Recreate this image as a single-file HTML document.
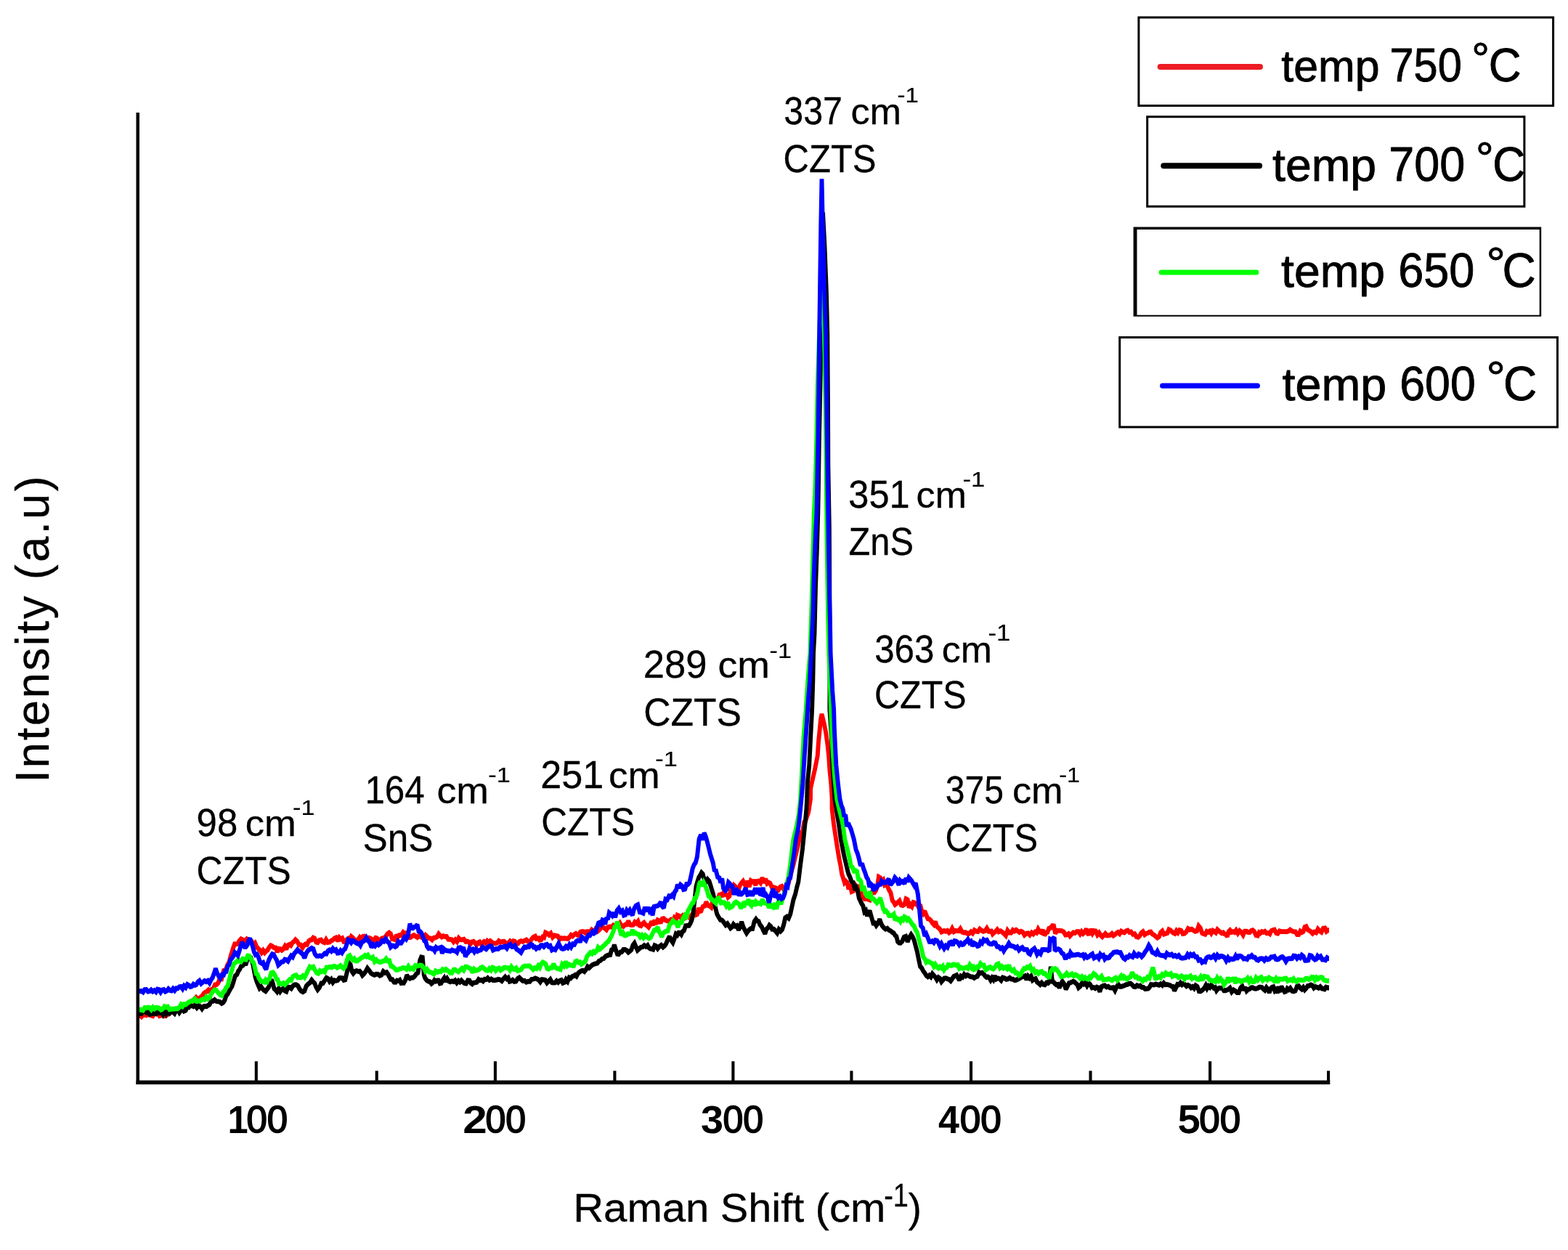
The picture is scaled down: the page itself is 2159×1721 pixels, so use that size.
<!DOCTYPE html>
<html lang="en">
<head>
<meta charset="utf-8">
<title>Raman spectra of CZTS at different temperatures</title>
<style>
html,body{margin:0;padding:0;background:#fff;}
body{width:2159px;height:1721px;overflow:hidden;}
svg{display:block;}
</style>
</head>
<body>
<svg width="2159" height="1721" viewBox="0 0 2159 1721" font-family="'Liberation Sans', Arial, Helvetica, sans-serif" fill="#000">
<rect width="2159" height="1721" fill="#fff"/>
<g transform="scale(1 1.15)" fill="none" stroke-width="5.9" stroke-linejoin="miter" stroke-miterlimit="2" stroke-linecap="butt">
<path stroke="#ff0000" d="M190.0,1215.6 L192.5,1215.6 L194.8,1217.2 L197.0,1215.0 L199.3,1215.2 L201.5,1215.5 L203.8,1213.6 L206.0,1215.1 L208.3,1215.6 L210.5,1216.3 L212.8,1213.0 L215.0,1213.9 L217.2,1212.9 L219.5,1216.2 L221.7,1215.6 L224.1,1212.2 L226.4,1216.3 L228.7,1215.9 L231.0,1214.1 L233.3,1213.6 L235.7,1211.1 L238.0,1210.1 L240.3,1212.1 L242.6,1209.6 L244.9,1208.7 L247.3,1207.5 L249.6,1205.0 L251.9,1205.6 L254.2,1204.0 L256.5,1204.4 L258.8,1201.4 L261.2,1200.5 L263.5,1198.4 L265.6,1198.1 L267.8,1196.1 L269.9,1194.2 L272.1,1196.6 L274.2,1195.6 L276.3,1193.8 L278.5,1192.2 L280.6,1189.3 L282.8,1187.9 L284.9,1187.1 L287.0,1185.1 L289.2,1187.3 L291.3,1184.6 L293.6,1183.8 L296.0,1178.9 L298.3,1178.7 L300.6,1176.6 L302.9,1171.0 L305.2,1171.7 L308.0,1162.1 L310.5,1161.6 L313.0,1155.8 L315.4,1152.1 L317.9,1143.8 L319.6,1139.3 L321.4,1134.2 L323.1,1130.3 L324.9,1130.4 L327.2,1129.9 L329.6,1126.3 L331.9,1124.2 L333.8,1125.0 L335.6,1127.6 L337.5,1126.2 L339.7,1124.2 L342.0,1125.9 L344.2,1126.3 L346.5,1126.9 L348.8,1131.2 L351.2,1129.1 L353.5,1133.7 L355.8,1136.0 L358.1,1137.6 L360.2,1140.5 L362.3,1137.9 L364.4,1140.6 L366.5,1138.5 L368.5,1137.5 L370.6,1134.1 L372.7,1131.9 L374.8,1132.8 L377.1,1134.4 L379.4,1134.5 L381.8,1139.7 L383.8,1135.9 L385.9,1136.1 L388.0,1137.7 L390.1,1136.1 L392.2,1133.0 L394.3,1136.5 L396.4,1131.7 L398.5,1130.7 L400.5,1131.9 L402.6,1128.6 L404.7,1127.2 L406.8,1125.0 L409.2,1126.9 L411.7,1131.0 L414.1,1131.2 L416.5,1134.7 L418.6,1131.8 L420.7,1130.4 L422.8,1130.9 L424.9,1126.9 L427.0,1125.5 L429.1,1125.2 L431.2,1122.7 L433.2,1123.5 L435.3,1128.0 L437.4,1128.5 L439.7,1125.7 L442.1,1125.2 L444.4,1127.7 L446.7,1128.5 L449.0,1124.9 L451.3,1128.3 L453.7,1127.8 L456.0,1126.4 L458.3,1125.4 L460.5,1123.4 L462.7,1122.6 L465.0,1126.6 L467.2,1122.5 L469.4,1124.4 L471.4,1123.4 L473.3,1127.3 L475.3,1127.4 L477.4,1125.1 L479.5,1123.6 L481.6,1125.3 L483.7,1121.2 L486.0,1122.8 L488.3,1125.2 L490.6,1127.4 L492.9,1125.1 L495.3,1122.2 L497.6,1124.3 L499.7,1121.2 L501.7,1120.9 L503.8,1122.8 L505.9,1124.3 L508.2,1122.8 L510.6,1123.8 L512.9,1125.1 L515.0,1125.5 L517.1,1122.8 L519.1,1123.3 L521.2,1125.3 L523.5,1125.3 L525.9,1123.3 L528.2,1123.1 L530.7,1121.6 L533.3,1118.2 L535.8,1116.6 L537.9,1118.0 L540.0,1124.0 L542.1,1124.3 L544.0,1124.9 L545.8,1119.3 L547.7,1121.6 L550.1,1119.6 L552.5,1119.8 L555.0,1116.3 L557.4,1118.9 L559.3,1115.3 L561.1,1119.6 L563.0,1122.2 L565.3,1122.2 L567.6,1120.6 L569.9,1119.6 L572.2,1120.9 L574.6,1122.3 L576.9,1120.1 L579.1,1121.6 L581.3,1122.5 L583.6,1122.2 L585.8,1119.5 L588.0,1121.3 L590.3,1123.2 L592.7,1123.3 L595.0,1125.2 L597.3,1122.8 L599.6,1122.5 L601.9,1121.5 L604.0,1118.1 L606.1,1120.4 L608.2,1121.8 L610.3,1120.6 L612.6,1121.3 L614.9,1121.2 L617.2,1124.5 L619.7,1124.6 L622.1,1124.9 L624.5,1127.6 L627.0,1125.0 L629.3,1127.3 L631.6,1123.1 L633.9,1125.0 L636.4,1125.1 L638.8,1124.5 L641.2,1127.3 L643.7,1127.0 L645.8,1128.1 L647.8,1130.2 L649.9,1127.6 L652.0,1127.1 L654.1,1129.1 L656.2,1131.4 L658.3,1128.6 L660.4,1127.8 L662.5,1130.7 L664.5,1128.9 L666.6,1127.3 L668.7,1128.8 L670.8,1126.5 L672.9,1128.4 L675.0,1126.5 L677.1,1127.9 L679.5,1129.3 L681.9,1129.5 L684.4,1129.1 L686.8,1126.4 L689.2,1128.0 L691.7,1127.3 L694.1,1127.1 L696.5,1129.4 L698.4,1129.8 L700.3,1128.6 L702.1,1126.8 L704.3,1128.8 L706.6,1126.6 L708.8,1127.1 L711.0,1129.4 L713.2,1129.5 L715.3,1127.4 L717.4,1126.6 L719.9,1127.3 L722.3,1126.3 L724.7,1125.2 L727.2,1127.4 L729.6,1127.5 L732.0,1124.3 L734.5,1121.9 L736.9,1121.0 L739.0,1125.5 L741.1,1121.7 L743.2,1125.3 L745.3,1124.9 L747.2,1121.8 L749.2,1122.4 L751.1,1116.5 L753.6,1117.5 L756.0,1119.5 L758.4,1117.5 L760.9,1122.1 L763.3,1119.9 L765.7,1120.3 L768.2,1120.8 L770.6,1124.6 L772.8,1123.2 L775.1,1123.6 L777.3,1123.3 L779.5,1123.6 L781.7,1123.9 L784.0,1122.2 L786.2,1119.5 L788.4,1120.7 L790.6,1118.9 L792.9,1117.7 L795.0,1119.3 L797.1,1119.7 L799.1,1115.8 L801.2,1115.4 L803.5,1115.3 L805.7,1116.9 L807.9,1115.4 L810.1,1115.4 L812.4,1115.8 L814.6,1113.2 L816.8,1115.0 L819.0,1115.3 L821.3,1109.8 L823.5,1114.5 L825.8,1112.8 L828.1,1108.7 L830.4,1110.3 L832.8,1111.4 L835.1,1113.2 L837.4,1109.9 L839.7,1109.5 L842.0,1109.9 L844.4,1107.8 L846.7,1109.2 L849.0,1106.4 L851.3,1108.0 L853.6,1105.1 L856.0,1108.5 L858.3,1109.1 L860.6,1107.1 L862.9,1106.9 L865.2,1102.6 L867.5,1107.1 L869.7,1107.4 L871.9,1107.2 L874.1,1103.9 L876.4,1105.4 L878.5,1103.1 L880.5,1108.0 L882.6,1108.5 L884.7,1106.0 L886.8,1104.6 L888.9,1107.2 L891.0,1108.2 L893.1,1110.0 L895.1,1107.2 L897.2,1103.3 L899.3,1107.6 L901.4,1101.6 L903.5,1106.3 L905.6,1101.5 L907.7,1102.2 L909.8,1105.0 L911.8,1100.0 L913.9,1099.7 L916.4,1101.7 L918.8,1102.6 L921.2,1102.8 L923.7,1101.1 L925.9,1102.8 L928.1,1099.2 L930.4,1102.3 L932.6,1095.7 L934.8,1096.5 L937.2,1098.4 L939.7,1096.4 L942.1,1099.4 L944.5,1098.4 L947.0,1096.9 L949.4,1098.8 L951.9,1096.0 L954.3,1093.4 L956.1,1092.8 L958.0,1095.3 L959.9,1094.6 L961.7,1087.2 L963.6,1091.0 L965.4,1090.5 L967.7,1085.4 L970.1,1084.7 L972.4,1080.1 L974.7,1083.9 L977.0,1084.5 L979.3,1086.2 L981.2,1079.4 L983.0,1086.3 L984.9,1080.5 L986.8,1076.2 L988.6,1076.9 L990.5,1071.4 L992.6,1070.9 L994.6,1073.3 L996.7,1067.2 L998.8,1072.3 L1000.7,1069.8 L1002.5,1074.2 L1004.4,1072.7 L1006.5,1064.4 L1008.6,1065.0 L1010.6,1059.9 L1012.7,1061.5 L1014.8,1064.7 L1016.9,1064.8 L1019.0,1059.6 L1021.1,1057.1 L1023.2,1055.0 L1025.3,1058.6 L1027.4,1062.3 L1029.6,1054.5 L1031.7,1061.8 L1033.9,1054.4 L1036.0,1055.6 L1038.1,1055.3 L1040.2,1059.5 L1042.3,1055.1 L1044.7,1054.8 L1047.1,1057.0 L1049.6,1051.0 L1052.0,1056.9 L1054.1,1052.1 L1056.2,1057.7 L1058.3,1056.5 L1060.4,1057.4 L1062.7,1062.1 L1065.0,1062.3 L1067.3,1062.9 L1069.6,1063.7 L1071.9,1065.3 L1074.3,1061.9 L1076.6,1061.1 L1078.9,1064.4 L1081.2,1063.2 L1083.5,1057.7 L1085.9,1056.6 L1088.2,1048.5 L1090.3,1041.8 L1092.4,1035.2 L1094.4,1027.9 L1096.5,1020.7 L1098.3,1014.0 L1100.0,1007.3 L1101.7,1001.3 L1103.5,996.4 L1105.3,994.9 L1107.2,984.4 L1109.1,983.1 L1111.1,977.7 L1113.2,972.3 L1116.0,956.5 L1116.1,943.9 L1118.0,936.5 L1119.9,929.1 L1121.9,921.7 L1123.8,913.3 L1125.7,905.0 L1127.0,888.3 L1128.9,871.6 L1130.2,860.5 L1131.5,854.9 L1134.7,866.1 L1137.2,877.2 L1139.8,893.9 L1141.1,905.0 L1142.4,921.7 L1144.3,938.4 L1145.6,955.1 L1145.6,968.6 L1148.0,986.8 L1150.1,998.9 L1152.2,1011.0 L1153.9,1020.0 L1155.7,1029.1 L1157.4,1036.4 L1159.1,1046.2 L1161.0,1051.3 L1162.9,1056.7 L1164.7,1055.0 L1166.6,1056.6 L1168.4,1064.6 L1170.3,1058.8 L1172.6,1067.4 L1174.9,1066.6 L1177.2,1059.2 L1179.1,1061.1 L1180.9,1067.0 L1182.8,1062.9 L1184.9,1064.9 L1187.0,1076.0 L1189.1,1073.1 L1191.2,1077.9 L1193.2,1072.7 L1195.3,1076.6 L1197.6,1077.3 L1200.0,1068.7 L1202.3,1068.4 L1204.1,1068.5 L1206.0,1066.1 L1207.8,1061.8 L1209.9,1049.9 L1212.0,1051.0 L1214.1,1054.8 L1216.2,1053.3 L1218.1,1059.3 L1219.9,1058.1 L1221.8,1060.9 L1224.1,1065.4 L1226.4,1068.9 L1228.7,1078.0 L1230.6,1080.1 L1232.4,1083.0 L1234.3,1081.7 L1236.4,1080.1 L1238.5,1078.4 L1240.8,1083.5 L1243.1,1084.1 L1245.4,1082.8 L1247.5,1076.2 L1249.6,1077.1 L1251.7,1086.5 L1253.8,1083.2 L1255.6,1085.2 L1257.5,1080.4 L1259.3,1080.8 L1261.1,1082.5 L1262.8,1082.9 L1264.9,1086.2 L1267.0,1083.0 L1269.1,1090.7 L1271.2,1093.7 L1273.3,1090.7 L1275.4,1095.3 L1277.5,1099.9 L1279.6,1100.4 L1281.7,1102.1 L1283.8,1105.0 L1285.9,1107.0 L1287.9,1103.4 L1290.0,1109.0 L1292.1,1110.7 L1294.2,1112.4 L1296.3,1115.7 L1298.2,1115.0 L1300.0,1114.3 L1302.2,1115.1 L1304.5,1114.2 L1306.7,1116.6 L1308.9,1115.2 L1311.1,1111.6 L1313.4,1115.4 L1315.6,1114.3 L1317.8,1114.4 L1320.0,1114.5 L1322.3,1111.9 L1324.7,1115.7 L1327.1,1116.5 L1329.6,1116.3 L1332.0,1117.6 L1334.4,1117.6 L1336.9,1115.5 L1339.3,1117.3 L1341.7,1113.6 L1344.2,1114.9 L1346.6,1115.3 L1349.0,1112.3 L1351.5,1114.0 L1353.9,1115.1 L1356.4,1114.4 L1358.8,1111.4 L1361.2,1115.1 L1363.1,1115.0 L1364.9,1114.7 L1366.8,1118.2 L1368.9,1116.5 L1371.0,1115.1 L1373.1,1113.0 L1375.1,1115.5 L1377.6,1114.5 L1380.0,1116.0 L1382.4,1117.6 L1384.9,1120.0 L1387.3,1114.0 L1389.7,1116.7 L1392.2,1116.8 L1394.6,1113.5 L1396.8,1114.8 L1399.1,1113.3 L1401.3,1114.6 L1403.5,1116.1 L1405.8,1115.0 L1408.2,1115.9 L1410.6,1119.5 L1413.1,1117.6 L1415.5,1117.3 L1417.9,1119.3 L1420.4,1116.5 L1422.8,1118.3 L1425.2,1115.7 L1427.3,1116.7 L1429.4,1112.4 L1431.5,1115.4 L1433.6,1116.4 L1435.9,1113.5 L1438.2,1119.7 L1440.5,1116.6 L1442.4,1115.9 L1444.2,1111.7 L1446.1,1111.2 L1448.9,1108.3 L1451.0,1108.5 L1453.1,1117.5 L1455.4,1114.0 L1457.7,1114.2 L1460.0,1114.2 L1462.3,1114.5 L1464.7,1115.7 L1467.0,1119.3 L1469.1,1119.1 L1471.2,1117.9 L1473.2,1120.6 L1475.3,1118.6 L1477.8,1116.5 L1480.2,1117.1 L1482.6,1115.4 L1485.1,1115.4 L1487.2,1118.1 L1489.2,1115.4 L1491.3,1117.8 L1493.4,1116.3 L1495.7,1112.2 L1498.1,1117.7 L1500.4,1117.5 L1502.5,1112.4 L1504.5,1117.2 L1506.6,1114.5 L1508.7,1114.7 L1511.0,1119.2 L1513.4,1116.7 L1515.7,1119.8 L1517.8,1121.5 L1519.9,1119.7 L1521.9,1117.7 L1524.0,1120.0 L1526.3,1119.8 L1528.7,1119.5 L1531.0,1117.7 L1533.1,1120.1 L1535.2,1118.9 L1537.2,1117.2 L1539.3,1116.1 L1541.6,1117.9 L1543.8,1114.9 L1546.0,1116.0 L1548.2,1116.6 L1550.5,1114.6 L1552.8,1113.9 L1555.1,1116.1 L1557.4,1115.6 L1559.9,1118.5 L1562.3,1118.1 L1564.7,1121.5 L1567.2,1122.1 L1569.4,1120.2 L1571.6,1116.8 L1573.8,1115.4 L1576.1,1119.0 L1578.3,1117.7 L1580.4,1117.1 L1582.5,1115.9 L1584.6,1115.7 L1586.6,1118.3 L1589.0,1119.3 L1591.3,1121.0 L1593.6,1122.8 L1595.9,1121.5 L1598.1,1116.4 L1600.4,1114.6 L1602.7,1118.4 L1605.0,1117.7 L1607.3,1117.1 L1609.4,1112.8 L1611.5,1113.6 L1613.6,1115.4 L1615.7,1116.9 L1617.7,1117.7 L1619.8,1114.4 L1621.9,1116.6 L1624.0,1113.6 L1626.3,1114.1 L1628.6,1117.9 L1631.0,1117.6 L1633.4,1115.6 L1635.8,1111.7 L1638.4,1113.1 L1640.9,1112.4 L1643.5,1114.0 L1645.8,1115.1 L1648.1,1114.5 L1650.4,1108.6 L1652.8,1111.0 L1655.1,1117.1 L1657.4,1118.0 L1659.5,1118.5 L1661.6,1115.1 L1663.7,1116.0 L1665.8,1114.7 L1667.8,1117.3 L1669.9,1114.1 L1672.0,1115.2 L1674.1,1116.6 L1676.2,1112.9 L1678.3,1114.5 L1680.4,1116.0 L1682.4,1117.3 L1684.3,1116.5 L1686.2,1118.2 L1688.0,1118.8 L1689.9,1121.3 L1691.7,1115.4 L1693.6,1113.7 L1695.7,1116.1 L1697.8,1115.4 L1699.8,1116.2 L1701.9,1113.7 L1704.4,1117.4 L1706.8,1114.3 L1709.2,1116.0 L1711.7,1119.4 L1714.0,1115.0 L1716.3,1115.0 L1718.6,1116.2 L1720.7,1116.3 L1722.8,1114.2 L1724.9,1113.7 L1727.0,1115.3 L1729.4,1119.7 L1731.8,1120.2 L1733.6,1116.4 L1735.3,1117.3 L1737.4,1115.3 L1739.5,1116.1 L1741.6,1115.1 L1744.0,1117.3 L1746.5,1116.9 L1748.5,1118.1 L1750.6,1114.3 L1752.7,1113.5 L1754.8,1113.1 L1757.1,1117.0 L1759.4,1117.6 L1761.8,1114.6 L1764.2,1115.3 L1766.6,1115.3 L1769.1,1115.3 L1771.5,1115.5 L1773.9,1114.8 L1776.4,1113.1 L1778.8,1114.6 L1781.2,1115.4 L1783.6,1115.5 L1785.9,1118.8 L1788.2,1118.8 L1790.3,1114.9 L1792.4,1116.4 L1794.5,1115.3 L1796.5,1109.9 L1798.6,1109.2 L1800.7,1113.1 L1802.8,1114.2 L1804.9,1115.3 L1807.3,1117.6 L1809.8,1115.7 L1812.2,1116.6 L1814.6,1112.3 L1817.1,1114.8 L1819.5,1116.0 L1821.9,1111.5 L1824.4,1111.2 L1826.4,1115.1 L1828.5,1113.7 L1830.0,1113.7"/>
<path stroke="#000000" d="M190.0,1213.6 L192.5,1213.6 L194.8,1213.7 L197.0,1211.2 L199.3,1210.6 L201.5,1212.3 L203.8,1211.8 L206.0,1214.3 L208.3,1213.8 L210.5,1213.4 L212.8,1213.1 L215.0,1213.6 L217.2,1211.2 L219.5,1212.6 L221.7,1211.3 L224.1,1214.6 L226.4,1210.5 L228.7,1214.0 L231.0,1210.3 L233.3,1213.1 L235.7,1211.3 L238.0,1211.5 L240.3,1213.4 L242.6,1209.4 L244.8,1208.9 L247.0,1212.2 L249.2,1209.6 L251.4,1207.0 L253.5,1210.5 L255.7,1209.6 L257.9,1205.0 L260.0,1205.9 L262.1,1203.9 L264.2,1204.1 L266.3,1205.0 L268.7,1203.4 L271.1,1206.5 L273.6,1204.1 L276.0,1205.3 L278.1,1207.7 L280.2,1205.1 L282.3,1204.6 L284.4,1204.9 L286.4,1203.7 L288.5,1202.7 L290.9,1198.2 L293.2,1198.6 L295.5,1196.9 L297.9,1198.8 L300.4,1199.1 L302.8,1199.5 L305.2,1201.3 L307.3,1200.2 L309.4,1197.4 L311.5,1192.0 L313.6,1189.9 L315.5,1186.6 L317.5,1183.4 L319.4,1181.0 L321.4,1175.7 L323.9,1168.2 L326.3,1166.7 L328.2,1162.6 L330.0,1160.7 L331.9,1157.0 L334.2,1155.9 L336.6,1153.7 L338.9,1153.5 L340.9,1148.0 L342.9,1147.8 L344.9,1145.2 L346.6,1150.0 L348.3,1154.8 L351.5,1169.6 L353.5,1175.2 L355.5,1179.4 L357.4,1183.1 L359.4,1181.3 L361.4,1183.7 L363.3,1185.4 L365.8,1186.7 L368.2,1184.0 L370.1,1181.8 L371.9,1176.6 L373.8,1172.9 L375.7,1177.6 L377.5,1183.6 L379.4,1185.1 L381.5,1187.3 L383.7,1183.6 L385.8,1187.1 L387.9,1184.5 L390.0,1183.6 L392.2,1186.2 L394.3,1187.0 L396.5,1181.8 L398.7,1182.0 L401.0,1183.4 L403.2,1180.4 L405.4,1179.0 L407.7,1178.9 L410.1,1180.1 L412.4,1183.8 L414.7,1186.5 L417.0,1187.6 L419.3,1186.3 L421.8,1180.4 L424.2,1178.2 L426.6,1176.7 L429.1,1173.3 L431.2,1175.7 L433.2,1177.1 L435.3,1181.8 L437.4,1184.9 L439.9,1182.3 L442.3,1177.3 L444.7,1177.2 L447.2,1173.6 L449.4,1170.6 L451.6,1171.7 L453.8,1174.9 L456.1,1172.6 L458.3,1176.2 L460.5,1173.7 L462.7,1174.1 L465.0,1173.7 L467.2,1170.9 L469.4,1170.7 L471.4,1171.0 L473.3,1173.4 L475.3,1172.9 L477.2,1166.1 L479.0,1159.2 L480.9,1153.3 L482.7,1155.1 L484.6,1163.1 L486.4,1165.3 L488.8,1162.9 L491.1,1162.2 L493.4,1163.1 L495.3,1162.7 L497.1,1164.7 L499.0,1167.7 L501.3,1165.8 L503.6,1162.9 L505.9,1159.2 L508.4,1161.9 L510.8,1165.1 L513.2,1166.4 L515.7,1167.3 L518.1,1166.2 L520.5,1166.3 L523.0,1168.0 L525.4,1167.2 L527.7,1163.0 L530.0,1164.7 L532.4,1164.0 L534.2,1166.3 L536.1,1169.6 L537.9,1172.5 L540.2,1172.7 L542.6,1175.9 L544.9,1176.0 L546.7,1173.9 L548.6,1174.3 L550.4,1173.3 L552.3,1177.0 L554.2,1176.7 L556.0,1176.8 L558.1,1173.5 L560.2,1167.6 L562.3,1170.1 L564.4,1171.5 L566.4,1170.6 L568.5,1170.5 L570.9,1168.9 L573.2,1166.1 L575.5,1164.5 L578.3,1149.6 L580.0,1145.9 L581.8,1146.3 L583.8,1167.4 L585.2,1170.9 L587.5,1173.6 L589.7,1174.9 L591.9,1175.4 L594.1,1177.6 L596.4,1175.9 L598.2,1173.6 L600.1,1174.9 L601.9,1173.9 L603.8,1173.9 L605.6,1177.4 L607.5,1177.0 L609.6,1173.5 L611.7,1170.9 L613.8,1175.0 L615.8,1171.8 L617.9,1174.7 L620.0,1175.5 L622.2,1174.7 L624.5,1175.3 L626.7,1173.8 L628.9,1176.6 L631.2,1174.2 L633.2,1175.7 L635.3,1173.8 L637.4,1175.8 L639.5,1177.1 L641.8,1177.4 L644.1,1173.8 L646.5,1174.0 L648.3,1177.0 L650.2,1178.1 L652.0,1176.5 L654.3,1176.4 L656.7,1175.8 L659.0,1172.5 L661.1,1173.6 L663.2,1173.3 L665.2,1174.6 L667.3,1172.4 L669.4,1172.8 L671.5,1171.0 L673.9,1173.4 L676.4,1172.1 L678.8,1173.5 L681.2,1173.5 L683.7,1173.2 L686.1,1172.4 L688.5,1172.9 L691.0,1174.4 L693.3,1171.8 L695.6,1169.6 L697.9,1172.0 L699.8,1170.7 L701.7,1175.0 L703.5,1174.6 L705.8,1173.2 L708.1,1175.1 L710.5,1174.8 L712.8,1171.7 L715.1,1170.4 L717.4,1172.4 L719.9,1174.3 L722.3,1174.1 L724.7,1175.8 L727.2,1175.0 L729.6,1175.0 L732.0,1172.4 L734.5,1172.2 L736.9,1171.2 L739.2,1172.0 L741.5,1172.9 L743.9,1175.6 L746.2,1172.7 L748.5,1172.9 L750.8,1173.3 L753.1,1176.7 L755.4,1174.7 L757.7,1172.6 L760.0,1176.4 L762.1,1176.6 L764.3,1176.4 L766.4,1174.3 L768.6,1176.1 L770.7,1174.2 L772.9,1173.5 L775.0,1176.9 L777.2,1176.1 L779.3,1172.6 L781.5,1175.0 L783.7,1170.4 L785.8,1171.1 L788.0,1169.0 L789.9,1168.6 L791.9,1167.3 L793.8,1168.7 L795.7,1165.6 L797.9,1163.8 L800.1,1162.5 L802.4,1161.9 L804.6,1163.2 L806.8,1160.8 L809.0,1157.2 L811.2,1158.7 L813.5,1156.8 L815.7,1155.2 L817.9,1154.3 L820.1,1153.7 L822.4,1153.2 L824.6,1150.6 L826.8,1150.0 L829.1,1148.0 L831.3,1147.6 L833.5,1145.2 L835.7,1144.1 L838.0,1143.4 L840.2,1143.1 L842.0,1137.4 L843.9,1136.8 L845.8,1131.2 L847.8,1136.7 L849.9,1142.1 L852.0,1142.3 L854.1,1140.0 L856.2,1139.7 L858.3,1136.9 L860.6,1136.9 L862.9,1138.0 L865.2,1140.2 L867.3,1138.8 L869.4,1137.0 L871.5,1131.6 L873.6,1129.2 L875.7,1133.6 L877.8,1137.7 L880.1,1136.0 L882.4,1134.1 L884.7,1133.7 L887.0,1131.8 L889.4,1133.3 L891.7,1131.8 L893.5,1134.6 L895.4,1135.8 L897.2,1136.0 L899.3,1136.6 L901.4,1132.0 L903.5,1132.7 L905.6,1135.6 L908.0,1133.2 L910.5,1131.6 L912.9,1133.9 L915.3,1132.1 L917.2,1129.8 L919.0,1125.9 L920.9,1122.7 L922.7,1122.8 L924.6,1126.1 L926.5,1128.5 L928.5,1124.0 L930.6,1118.2 L932.5,1119.5 L934.3,1116.7 L936.2,1116.8 L938.1,1118.7 L939.9,1115.3 L941.8,1114.1 L944.1,1108.4 L946.4,1108.1 L948.7,1108.1 L950.6,1105.4 L952.4,1101.7 L954.3,1094.9 L956.4,1078.0 L958.5,1061.0 L960.3,1055.8 L962.2,1050.5 L964.0,1048.0 L965.9,1044.8 L967.7,1046.5 L969.6,1052.7 L971.9,1056.1 L974.2,1052.8 L976.5,1055.0 L978.4,1060.2 L980.3,1065.5 L982.1,1070.7 L984.9,1086.3 L987.2,1094.3 L989.5,1098.0 L991.9,1101.2 L994.3,1101.8 L996.7,1104.4 L999.2,1107.5 L1001.6,1105.8 L1003.7,1108.5 L1005.8,1111.2 L1007.9,1109.8 L1009.9,1106.6 L1012.3,1108.9 L1014.6,1108.2 L1016.9,1113.3 L1019.0,1109.7 L1021.1,1103.6 L1023.4,1109.7 L1025.7,1113.6 L1028.0,1117.1 L1030.0,1114.6 L1032.0,1112.8 L1033.9,1111.7 L1036.2,1111.8 L1038.6,1103.4 L1040.9,1100.5 L1042.7,1102.6 L1044.6,1103.1 L1046.4,1107.1 L1048.8,1109.6 L1051.1,1114.0 L1053.4,1117.9 L1055.5,1112.3 L1057.6,1110.6 L1059.4,1107.7 L1061.3,1109.1 L1063.1,1112.4 L1065.5,1112.4 L1067.8,1114.7 L1070.1,1117.1 L1072.4,1112.6 L1074.7,1114.8 L1077.1,1112.6 L1079.1,1107.2 L1081.2,1098.9 L1083.5,1097.5 L1085.9,1099.2 L1088.2,1094.5 L1090.3,1086.0 L1092.4,1077.5 L1095.1,1070.5 L1097.2,1062.4 L1099.3,1055.7 L1102.1,1035.2 L1104.9,1017.0 L1107.0,998.9 L1109.1,980.7 L1110.4,968.6 L1111.1,956.5 L1111.7,938.3 L1114.2,916.5 L1115.5,893.9 L1116.8,871.3 L1118.1,849.6 L1119.3,815.7 L1120.0,782.6 L1121.5,758.3 L1123.0,702.6 L1124.8,658.3 L1126.3,613.9 L1126.8,591.3 L1127.8,530.4 L1129.2,469.6 L1130.6,400.0 L1131.8,330.4 L1133.0,254.3 L1135.5,295.7 L1137.8,347.8 L1139.3,400.0 L1140.0,487.0 L1140.3,556.5 L1141.8,630.4 L1142.3,713.0 L1142.6,782.6 L1142.4,849.6 L1145.0,882.6 L1146.2,915.7 L1148.0,939.1 L1149.4,956.5 L1152.2,972.3 L1155.0,986.8 L1157.8,1004.9 L1159.8,1014.0 L1161.9,1023.1 L1164.0,1030.9 L1166.1,1038.8 L1168.2,1046.1 L1170.3,1049.9 L1172.6,1055.5 L1174.9,1056.7 L1177.2,1065.3 L1179.1,1063.0 L1180.9,1066.7 L1182.8,1075.3 L1184.7,1078.8 L1186.5,1082.0 L1188.4,1084.6 L1190.2,1091.5 L1192.1,1090.1 L1193.9,1096.7 L1196.0,1091.8 L1198.1,1092.0 L1200.2,1098.7 L1202.3,1105.1 L1204.4,1105.0 L1206.5,1108.0 L1208.9,1105.3 L1211.3,1100.5 L1213.1,1105.3 L1214.8,1108.5 L1217.1,1110.8 L1219.4,1112.4 L1221.8,1111.4 L1224.1,1113.6 L1226.4,1114.5 L1228.7,1116.3 L1230.6,1117.1 L1232.4,1119.7 L1234.3,1121.1 L1236.1,1127.4 L1238.0,1128.9 L1239.9,1129.0 L1242.3,1127.0 L1244.7,1122.0 L1247.2,1121.1 L1249.6,1127.5 L1252.0,1122.5 L1254.5,1118.9 L1256.5,1121.4 L1258.6,1125.4 L1260.7,1132.3 L1262.8,1139.1 L1264.9,1148.2 L1267.0,1156.9 L1269.1,1158.9 L1271.2,1162.5 L1273.3,1164.9 L1275.4,1167.9 L1277.5,1169.4 L1279.6,1167.7 L1281.7,1169.5 L1283.8,1165.9 L1285.9,1167.9 L1287.9,1169.9 L1290.0,1173.0 L1292.1,1170.2 L1294.2,1171.5 L1296.3,1175.3 L1298.2,1173.4 L1300.0,1171.3 L1302.3,1171.1 L1304.6,1171.9 L1307.0,1172.7 L1309.0,1174.3 L1311.1,1171.8 L1313.2,1169.0 L1315.3,1168.3 L1317.2,1167.4 L1319.0,1170.3 L1320.9,1173.6 L1323.1,1168.7 L1325.3,1169.9 L1327.6,1166.6 L1329.8,1168.5 L1332.0,1167.3 L1334.3,1168.4 L1336.6,1169.4 L1339.0,1169.5 L1341.3,1170.9 L1343.6,1169.5 L1345.9,1168.8 L1348.0,1164.3 L1350.1,1165.2 L1352.2,1164.6 L1354.3,1166.0 L1356.4,1168.5 L1358.4,1170.0 L1360.3,1169.5 L1362.2,1170.7 L1364.0,1173.4 L1365.9,1170.7 L1367.7,1172.8 L1369.6,1168.3 L1371.8,1172.2 L1374.0,1171.1 L1376.3,1171.8 L1378.5,1173.8 L1380.7,1170.4 L1383.1,1171.0 L1385.6,1172.5 L1388.0,1172.0 L1390.4,1170.6 L1392.7,1172.3 L1394.9,1172.3 L1397.1,1173.7 L1399.4,1173.2 L1401.6,1172.3 L1404.0,1171.3 L1406.4,1169.8 L1408.9,1169.4 L1411.3,1168.4 L1413.4,1172.8 L1415.5,1168.8 L1417.6,1171.0 L1419.7,1168.8 L1421.8,1173.6 L1423.8,1172.5 L1425.9,1171.7 L1428.0,1175.7 L1430.1,1177.1 L1432.2,1178.8 L1434.3,1176.5 L1436.4,1178.5 L1438.7,1178.9 L1441.0,1176.4 L1443.3,1176.9 L1444.7,1175.4 L1446.8,1157.2 L1448.9,1175.1 L1450.3,1175.3 L1452.4,1177.5 L1454.5,1179.0 L1456.5,1178.6 L1458.6,1182.6 L1460.7,1178.7 L1462.8,1175.0 L1465.2,1178.0 L1467.7,1184.4 L1469.8,1180.7 L1471.8,1177.1 L1473.9,1176.5 L1475.8,1175.8 L1477.6,1174.9 L1479.5,1175.7 L1481.4,1177.2 L1483.2,1178.7 L1485.1,1182.5 L1487.4,1180.9 L1489.7,1176.8 L1492.0,1178.3 L1494.3,1176.5 L1496.7,1180.2 L1499.0,1176.9 L1501.3,1178.9 L1503.6,1182.6 L1505.9,1182.2 L1508.0,1183.3 L1510.1,1181.8 L1512.2,1182.4 L1514.3,1187.2 L1516.6,1181.4 L1518.9,1180.3 L1521.2,1179.9 L1523.6,1181.7 L1525.9,1181.0 L1528.2,1182.5 L1530.5,1182.7 L1532.8,1182.3 L1535.2,1185.8 L1537.5,1181.4 L1539.8,1178.5 L1542.1,1181.2 L1544.2,1181.1 L1546.3,1180.4 L1548.4,1179.8 L1550.5,1178.8 L1552.6,1178.6 L1554.6,1177.6 L1556.7,1177.4 L1558.8,1178.9 L1561.0,1181.1 L1563.3,1181.5 L1565.5,1179.8 L1567.7,1180.8 L1569.9,1180.1 L1572.2,1182.0 L1574.4,1182.1 L1576.6,1183.9 L1578.8,1183.8 L1581.1,1183.5 L1582.9,1181.8 L1584.8,1178.6 L1586.6,1178.9 L1589.0,1179.2 L1591.3,1178.2 L1593.6,1178.8 L1595.9,1179.4 L1598.1,1177.9 L1600.4,1179.6 L1602.4,1177.0 L1604.5,1178.9 L1606.8,1178.6 L1609.2,1179.1 L1611.5,1179.9 L1613.3,1180.9 L1615.2,1181.2 L1617.1,1186.0 L1619.1,1182.8 L1621.2,1178.5 L1623.3,1178.8 L1625.4,1176.7 L1627.5,1178.9 L1629.6,1177.4 L1631.7,1178.8 L1633.7,1180.6 L1635.8,1179.3 L1637.9,1180.2 L1640.0,1182.5 L1642.1,1181.3 L1644.2,1183.2 L1646.3,1179.8 L1648.6,1181.1 L1650.9,1186.7 L1653.2,1186.8 L1655.5,1185.5 L1657.9,1183.3 L1660.2,1179.8 L1662.0,1183.3 L1663.9,1180.6 L1665.8,1182.1 L1667.6,1179.4 L1669.5,1180.8 L1671.3,1182.9 L1673.2,1182.2 L1675.0,1185.9 L1676.9,1183.9 L1679.0,1182.8 L1681.1,1182.9 L1683.1,1183.1 L1685.2,1185.9 L1687.3,1185.9 L1689.4,1185.2 L1691.5,1184.4 L1693.6,1182.9 L1696.0,1187.5 L1698.5,1185.1 L1700.9,1186.4 L1703.3,1188.4 L1705.6,1188.4 L1708.0,1183.2 L1710.3,1180.6 L1712.4,1185.4 L1714.5,1182.1 L1716.5,1186.4 L1718.6,1184.6 L1720.7,1184.1 L1722.8,1182.5 L1724.9,1182.3 L1727.0,1183.4 L1729.3,1183.8 L1731.6,1183.2 L1733.9,1181.9 L1735.8,1181.9 L1737.6,1182.1 L1739.5,1184.0 L1741.6,1185.5 L1743.7,1182.2 L1745.8,1184.6 L1747.8,1188.4 L1749.7,1183.4 L1751.6,1181.9 L1753.4,1181.5 L1755.3,1186.1 L1757.1,1184.7 L1759.0,1188.5 L1760.8,1184.1 L1762.7,1185.0 L1764.5,1181.1 L1766.6,1184.9 L1768.7,1187.4 L1770.6,1186.8 L1772.4,1183.5 L1774.3,1184.9 L1776.6,1183.0 L1778.9,1186.3 L1781.2,1187.0 L1783.6,1186.2 L1785.9,1180.8 L1788.2,1180.4 L1790.3,1182.9 L1792.4,1184.4 L1794.5,1182.1 L1796.5,1185.1 L1798.6,1183.1 L1800.7,1180.3 L1802.8,1180.1 L1804.9,1179.1 L1807.0,1179.8 L1809.1,1182.8 L1811.2,1181.3 L1813.2,1181.9 L1815.6,1183.0 L1817.9,1181.3 L1820.2,1183.5 L1822.1,1183.8 L1823.9,1184.3 L1825.8,1181.9 L1828.5,1182.6 L1830.0,1182.6"/>
<path stroke="#00ff00" d="M190.0,1208.9 L192.5,1208.9 L194.8,1208.9 L197.0,1209.6 L199.3,1206.4 L201.5,1206.6 L203.8,1206.1 L206.0,1206.5 L208.3,1208.8 L210.5,1205.9 L212.8,1207.8 L215.0,1206.2 L217.2,1206.6 L219.5,1207.2 L221.7,1209.0 L224.1,1207.8 L226.4,1204.9 L228.7,1206.0 L231.0,1205.2 L233.3,1208.5 L235.7,1208.1 L238.0,1207.9 L240.3,1207.9 L242.6,1207.4 L244.8,1207.6 L247.0,1206.0 L249.2,1202.7 L251.4,1204.8 L253.5,1202.3 L255.7,1202.7 L257.9,1201.1 L260.0,1199.8 L262.1,1198.9 L264.2,1198.6 L266.3,1197.5 L268.4,1196.0 L270.4,1198.6 L272.7,1198.2 L275.0,1198.8 L277.2,1197.1 L279.5,1196.2 L281.8,1196.8 L284.0,1193.6 L286.3,1195.9 L288.5,1194.5 L290.9,1190.0 L293.2,1186.9 L295.5,1185.2 L297.9,1185.7 L300.4,1188.5 L302.8,1191.0 L305.2,1191.8 L307.3,1187.5 L309.4,1186.2 L311.5,1182.0 L313.6,1180.2 L315.7,1172.6 L317.9,1165.0 L319.6,1160.5 L321.4,1154.7 L323.9,1152.4 L326.3,1151.1 L328.2,1148.9 L330.0,1150.8 L331.9,1151.4 L334.2,1148.0 L336.6,1148.7 L338.9,1148.9 L341.0,1144.3 L343.0,1144.4 L345.1,1147.1 L347.2,1150.8 L349.3,1152.9 L351.1,1159.0 L352.8,1165.7 L354.6,1166.5 L356.3,1170.7 L358.6,1173.9 L361.0,1175.0 L363.3,1175.6 L365.1,1173.7 L366.8,1177.7 L368.9,1173.0 L371.0,1172.1 L373.4,1164.9 L375.9,1164.2 L378.3,1167.1 L380.7,1172.2 L382.4,1172.8 L384.2,1177.8 L386.2,1177.7 L388.2,1177.9 L390.3,1176.9 L392.3,1178.7 L394.3,1177.0 L396.5,1175.1 L398.7,1172.8 L401.0,1173.6 L403.2,1169.2 L405.4,1168.0 L407.7,1167.5 L410.1,1170.4 L412.4,1170.2 L414.7,1170.3 L417.0,1168.2 L419.3,1170.2 L421.8,1166.2 L424.2,1161.4 L426.6,1157.3 L429.1,1158.3 L431.4,1157.5 L433.7,1161.5 L436.0,1164.6 L438.3,1165.4 L440.5,1162.2 L442.7,1163.4 L444.9,1162.2 L447.2,1163.6 L449.6,1158.2 L452.0,1158.3 L454.5,1157.5 L456.9,1158.2 L459.3,1156.7 L461.8,1157.1 L464.2,1158.6 L466.6,1157.5 L468.8,1155.9 L471.0,1157.8 L473.1,1159.4 L475.3,1157.2 L477.4,1150.6 L479.5,1145.0 L481.6,1144.0 L483.7,1147.2 L485.7,1149.2 L487.8,1147.6 L489.9,1150.4 L492.0,1150.5 L494.1,1148.8 L496.2,1147.7 L498.3,1146.1 L500.4,1145.6 L502.4,1143.9 L504.5,1145.2 L506.6,1143.5 L508.7,1146.3 L511.0,1147.2 L513.3,1146.0 L515.7,1151.2 L518.1,1149.1 L520.5,1151.1 L523.0,1152.0 L525.4,1151.6 L527.5,1150.5 L529.6,1150.3 L531.7,1147.9 L533.7,1150.5 L536.1,1150.2 L538.4,1156.7 L540.7,1157.1 L543.0,1159.1 L545.3,1161.1 L547.7,1161.1 L550.1,1160.0 L552.5,1159.6 L555.0,1158.5 L557.4,1159.0 L559.8,1160.4 L562.3,1156.9 L564.7,1160.1 L567.1,1159.1 L569.5,1160.3 L571.8,1156.0 L574.1,1156.6 L576.4,1156.2 L578.7,1155.5 L581.1,1156.1 L583.4,1158.5 L585.7,1162.6 L588.0,1160.4 L590.3,1163.2 L592.7,1163.9 L595.0,1165.0 L597.4,1166.2 L599.8,1162.5 L602.3,1164.0 L604.7,1162.8 L607.0,1163.3 L609.4,1160.5 L611.7,1161.6 L613.8,1160.3 L615.8,1161.8 L617.9,1162.9 L620.0,1164.9 L622.2,1164.9 L624.5,1161.0 L626.7,1160.8 L628.9,1162.5 L631.2,1163.5 L633.6,1161.3 L636.0,1159.3 L638.5,1161.5 L640.9,1157.5 L643.3,1157.7 L645.8,1158.7 L648.2,1159.9 L650.6,1164.3 L652.9,1160.2 L655.1,1161.9 L657.3,1161.4 L659.5,1160.8 L661.8,1158.7 L664.2,1157.8 L666.6,1159.6 L669.1,1161.5 L671.5,1161.9 L673.7,1159.6 L676.0,1161.6 L678.2,1158.3 L680.4,1159.0 L682.6,1162.0 L684.9,1159.7 L687.1,1159.0 L689.3,1161.7 L691.5,1160.4 L693.8,1158.5 L695.9,1158.2 L697.9,1158.9 L700.0,1158.8 L702.1,1161.3 L704.2,1157.6 L706.3,1160.1 L708.5,1160.6 L710.7,1159.0 L713.0,1162.2 L715.2,1161.6 L717.4,1160.8 L719.7,1157.7 L722.1,1156.6 L724.4,1156.7 L726.8,1156.5 L729.2,1156.4 L731.7,1158.7 L734.1,1160.7 L736.4,1158.6 L738.8,1159.6 L741.1,1156.2 L743.2,1158.4 L745.3,1153.9 L747.3,1152.0 L749.4,1152.8 L751.4,1154.1 L753.3,1159.4 L755.3,1160.2 L757.6,1158.7 L759.9,1158.6 L762.3,1154.1 L764.6,1158.2 L766.9,1159.3 L769.2,1159.9 L771.7,1160.6 L774.1,1154.4 L776.5,1156.5 L779.0,1151.3 L781.3,1156.2 L783.6,1154.6 L785.9,1155.7 L788.0,1156.0 L790.1,1156.2 L792.2,1151.2 L794.3,1150.5 L796.4,1152.3 L798.4,1151.8 L800.5,1154.3 L802.6,1153.1 L804.5,1151.9 L806.3,1150.2 L808.2,1145.0 L810.5,1142.8 L812.8,1140.4 L815.1,1141.8 L817.2,1139.3 L819.3,1140.4 L821.4,1138.4 L823.5,1134.2 L825.8,1136.4 L828.1,1134.9 L830.4,1132.7 L832.8,1131.2 L835.1,1128.8 L837.4,1127.4 L839.7,1124.0 L842.0,1120.4 L844.4,1115.3 L846.2,1110.0 L848.1,1109.3 L849.9,1103.4 L851.8,1108.6 L853.6,1113.9 L855.5,1119.6 L857.8,1116.7 L860.1,1119.9 L862.4,1119.7 L864.5,1118.0 L866.6,1118.2 L868.7,1117.6 L870.8,1113.6 L872.9,1117.3 L875.0,1116.7 L877.1,1118.3 L879.1,1118.6 L881.5,1121.8 L883.8,1119.6 L886.1,1122.7 L888.5,1119.8 L891.0,1121.8 L893.4,1123.4 L895.8,1122.5 L898.3,1118.1 L900.7,1113.7 L903.1,1113.2 L905.6,1110.1 L907.4,1115.3 L909.3,1117.9 L911.2,1121.7 L913.2,1117.3 L915.3,1115.6 L917.4,1114.9 L919.5,1114.6 L921.8,1107.6 L924.1,1105.5 L926.5,1102.2 L928.8,1104.2 L931.1,1104.9 L933.4,1110.1 L935.7,1103.0 L938.1,1106.0 L940.4,1099.5 L942.7,1096.3 L945.0,1099.8 L947.3,1090.4 L949.2,1087.7 L951.0,1084.9 L952.9,1081.4 L954.7,1080.6 L956.6,1075.2 L958.5,1074.3 L960.5,1068.3 L962.6,1058.7 L964.4,1055.4 L966.1,1060.7 L968.7,1056.3 L971.2,1060.6 L973.8,1066.6 L975.6,1072.7 L977.5,1073.1 L979.3,1076.4 L981.4,1077.5 L983.5,1079.6 L985.6,1081.3 L987.7,1075.9 L990.1,1075.3 L992.6,1080.9 L995.0,1080.3 L997.4,1080.6 L999.9,1084.5 L1002.3,1080.5 L1004.7,1086.7 L1007.2,1085.8 L1009.2,1084.2 L1011.3,1081.1 L1013.4,1079.9 L1015.5,1081.1 L1017.8,1082.5 L1020.1,1087.3 L1022.5,1083.3 L1024.5,1085.9 L1026.5,1079.0 L1028.5,1082.7 L1030.5,1076.9 L1032.5,1082.1 L1034.6,1084.0 L1036.7,1078.3 L1038.8,1084.3 L1040.9,1079.8 L1043.0,1081.8 L1045.0,1081.3 L1047.4,1082.2 L1049.7,1077.1 L1052.0,1080.7 L1054.3,1081.4 L1056.6,1082.0 L1059.0,1086.6 L1060.8,1083.3 L1062.7,1084.9 L1064.5,1086.0 L1066.8,1081.7 L1069.2,1088.2 L1071.5,1079.9 L1073.3,1077.9 L1075.2,1082.3 L1077.1,1077.5 L1079.1,1071.5 L1081.2,1065.4 L1083.3,1058.2 L1085.4,1050.9 L1088.2,1035.2 L1090.3,1019.4 L1092.4,1004.9 L1094.4,997.7 L1096.5,990.4 L1098.3,982.5 L1100.0,974.7 L1102.1,956.5 L1104.0,927.0 L1106.5,882.6 L1109.7,849.6 L1112.2,815.7 L1115.4,782.6 L1117.5,725.2 L1119.5,658.3 L1120.8,613.9 L1122.1,591.3 L1123.4,556.5 L1124.4,521.7 L1125.8,460.9 L1127.7,408.7 L1129.5,369.6 L1132.0,339.6 L1134.3,373.9 L1135.3,417.4 L1136.8,487.0 L1137.6,556.5 L1137.9,591.3 L1138.6,647.0 L1139.5,702.6 L1140.5,753.0 L1141.4,782.6 L1142.7,815.7 L1144.6,860.9 L1146.2,893.9 L1148.8,927.0 L1150.5,941.7 L1152.2,956.5 L1154.3,964.4 L1156.4,972.3 L1158.5,979.5 L1160.5,986.8 L1163.3,1004.9 L1165.4,1012.2 L1167.5,1019.4 L1169.6,1026.7 L1171.7,1037.3 L1173.8,1038.3 L1175.8,1042.8 L1177.9,1042.3 L1180.0,1043.3 L1181.9,1052.3 L1183.7,1053.1 L1185.6,1055.7 L1187.4,1066.8 L1189.3,1060.8 L1191.2,1067.6 L1193.5,1072.5 L1195.8,1073.2 L1198.1,1067.5 L1200.4,1075.9 L1202.7,1076.1 L1205.1,1078.8 L1207.4,1081.0 L1209.7,1078.8 L1212.0,1075.1 L1214.1,1081.1 L1216.2,1088.1 L1218.1,1091.1 L1219.9,1090.4 L1221.8,1092.5 L1224.1,1096.2 L1226.4,1096.2 L1228.7,1095.9 L1230.6,1094.5 L1232.4,1101.4 L1234.3,1099.3 L1236.1,1100.8 L1238.0,1100.6 L1239.9,1103.3 L1241.7,1100.2 L1243.6,1101.4 L1245.4,1097.6 L1247.3,1098.5 L1249.1,1101.4 L1251.0,1100.1 L1253.5,1103.0 L1256.1,1106.7 L1258.6,1108.7 L1260.7,1113.3 L1262.8,1116.3 L1264.9,1123.2 L1267.0,1130.0 L1269.1,1136.8 L1271.2,1145.5 L1273.3,1148.0 L1275.4,1152.1 L1277.5,1150.8 L1279.6,1151.5 L1281.7,1152.9 L1283.8,1153.6 L1285.9,1157.1 L1287.9,1154.6 L1290.0,1157.6 L1292.1,1159.1 L1294.2,1157.4 L1296.3,1158.9 L1298.2,1156.9 L1300.0,1160.9 L1301.9,1158.5 L1303.7,1158.3 L1305.6,1155.1 L1307.9,1155.5 L1310.2,1156.2 L1312.5,1154.7 L1314.6,1155.1 L1316.7,1155.6 L1318.8,1155.1 L1320.9,1159.4 L1323.3,1158.2 L1325.7,1159.5 L1328.2,1159.0 L1330.6,1158.0 L1332.9,1159.4 L1335.3,1155.1 L1337.6,1158.2 L1339.4,1155.3 L1341.3,1160.6 L1343.1,1160.0 L1345.5,1157.4 L1347.8,1157.6 L1350.1,1153.6 L1352.4,1155.6 L1354.7,1155.6 L1357.1,1161.0 L1359.1,1160.3 L1361.2,1158.4 L1363.3,1157.8 L1365.4,1159.3 L1367.7,1160.1 L1370.0,1158.1 L1372.4,1154.6 L1374.7,1153.8 L1377.0,1158.8 L1379.3,1157.0 L1381.7,1159.2 L1384.2,1157.8 L1386.6,1159.7 L1389.1,1155.6 L1391.4,1160.6 L1393.7,1162.3 L1396.0,1161.0 L1398.3,1164.8 L1400.6,1164.7 L1403.0,1167.8 L1405.3,1166.6 L1407.6,1162.8 L1409.9,1159.6 L1412.0,1159.8 L1414.1,1157.8 L1416.2,1158.6 L1418.3,1156.6 L1420.6,1161.5 L1422.9,1160.4 L1425.2,1164.6 L1427.6,1163.4 L1429.9,1165.6 L1432.2,1163.6 L1434.5,1163.1 L1436.8,1165.5 L1439.1,1165.5 L1441.0,1167.9 L1442.9,1168.5 L1444.7,1171.6 L1446.8,1162.8 L1448.9,1160.2 L1450.7,1161.1 L1452.6,1159.7 L1454.5,1160.4 L1456.8,1162.9 L1459.1,1166.2 L1461.4,1169.5 L1463.8,1168.8 L1466.3,1167.8 L1468.7,1165.2 L1471.2,1167.9 L1473.6,1167.3 L1476.0,1165.9 L1478.5,1168.4 L1480.9,1166.9 L1483.1,1167.9 L1485.3,1169.3 L1487.6,1171.5 L1489.8,1169.2 L1492.0,1171.5 L1494.1,1170.2 L1496.2,1171.9 L1498.3,1172.3 L1500.4,1169.4 L1502.2,1170.3 L1504.1,1167.9 L1505.9,1165.6 L1508.0,1166.7 L1510.1,1168.9 L1512.2,1171.1 L1514.3,1171.0 L1516.7,1168.8 L1519.2,1173.1 L1521.6,1172.7 L1524.0,1172.6 L1526.5,1171.7 L1528.9,1172.7 L1531.3,1173.8 L1533.8,1171.9 L1536.2,1170.6 L1538.6,1173.5 L1541.1,1170.9 L1543.5,1168.5 L1545.6,1172.7 L1547.7,1169.3 L1549.8,1170.8 L1551.9,1172.3 L1554.2,1170.5 L1556.5,1169.6 L1558.8,1164.2 L1560.9,1167.2 L1563.0,1169.9 L1565.1,1169.2 L1567.2,1171.5 L1569.2,1171.0 L1571.3,1172.8 L1573.4,1174.5 L1575.5,1172.2 L1577.8,1172.8 L1580.1,1169.8 L1582.5,1171.1 L1584.9,1165.1 L1587.3,1158.4 L1589.1,1163.9 L1590.8,1171.0 L1593.2,1170.8 L1595.6,1169.2 L1598.0,1170.5 L1600.4,1166.5 L1602.8,1167.8 L1605.2,1164.9 L1607.7,1166.7 L1610.1,1166.6 L1612.2,1165.6 L1614.3,1169.0 L1616.4,1168.0 L1618.4,1167.9 L1620.5,1168.2 L1622.6,1170.3 L1624.7,1169.7 L1626.8,1168.4 L1628.9,1169.3 L1631.0,1172.1 L1633.1,1169.5 L1635.1,1170.2 L1637.2,1169.6 L1639.3,1168.5 L1641.4,1171.7 L1643.5,1170.4 L1645.9,1170.0 L1648.4,1172.3 L1650.8,1172.6 L1653.2,1169.4 L1655.7,1173.5 L1658.1,1168.9 L1660.5,1169.3 L1663.0,1169.7 L1665.1,1172.8 L1667.1,1173.5 L1669.2,1174.4 L1671.3,1173.8 L1673.6,1175.3 L1676.0,1170.8 L1678.3,1173.9 L1680.6,1171.6 L1682.9,1174.1 L1685.2,1179.0 L1687.1,1177.0 L1688.9,1174.6 L1690.8,1170.6 L1692.9,1174.1 L1695.0,1173.0 L1697.1,1172.2 L1699.1,1172.3 L1701.0,1176.9 L1702.9,1172.9 L1704.7,1174.0 L1706.8,1173.8 L1708.9,1175.4 L1711.0,1174.2 L1713.1,1173.3 L1715.4,1173.2 L1717.7,1171.1 L1720.0,1175.3 L1722.3,1172.3 L1724.7,1175.4 L1727.0,1175.2 L1729.4,1170.6 L1731.8,1173.4 L1734.3,1170.8 L1736.7,1169.9 L1738.8,1173.8 L1740.9,1172.1 L1743.0,1171.7 L1745.1,1173.2 L1747.4,1170.5 L1749.7,1171.8 L1752.0,1172.4 L1754.3,1174.3 L1756.7,1171.6 L1759.0,1176.0 L1761.4,1172.0 L1763.8,1172.2 L1766.3,1172.5 L1768.7,1171.4 L1770.8,1171.3 L1772.9,1174.3 L1775.0,1173.4 L1777.1,1172.7 L1779.2,1173.9 L1781.2,1171.8 L1783.3,1174.1 L1785.4,1175.1 L1787.5,1173.1 L1789.6,1173.2 L1791.7,1173.4 L1793.8,1173.5 L1795.9,1173.1 L1797.9,1171.4 L1800.0,1171.4 L1802.1,1172.6 L1804.2,1171.6 L1806.3,1169.7 L1808.4,1170.1 L1810.5,1173.3 L1812.6,1170.4 L1814.6,1172.1 L1816.7,1170.5 L1818.8,1169.9 L1820.7,1170.3 L1822.5,1172.9 L1824.4,1173.8 L1826.4,1174.2 L1828.5,1174.2 L1830.0,1174.2"/>
<path stroke="#0000ff" d="M190.0,1186.6 L192.5,1186.6 L194.7,1186.4 L197.0,1187.8 L199.2,1184.8 L201.4,1184.7 L203.7,1187.1 L205.9,1186.8 L208.1,1185.1 L210.3,1187.0 L212.6,1185.7 L214.8,1187.6 L216.9,1184.4 L219.1,1184.8 L221.2,1187.9 L223.3,1185.2 L225.5,1184.7 L227.6,1187.1 L229.8,1186.2 L231.9,1183.9 L234.1,1185.7 L236.2,1186.1 L238.3,1183.7 L240.5,1185.9 L242.6,1183.3 L244.8,1183.4 L247.0,1181.4 L249.2,1181.1 L251.4,1183.8 L253.5,1180.3 L255.7,1182.2 L257.9,1178.7 L260.0,1179.8 L262.1,1181.3 L264.2,1180.8 L266.3,1178.4 L268.4,1179.6 L270.4,1178.7 L272.5,1175.5 L274.6,1174.1 L276.9,1177.6 L279.3,1175.8 L281.6,1174.2 L283.9,1175.3 L286.2,1174.1 L288.5,1176.8 L290.6,1172.9 L292.7,1170.5 L294.8,1165.1 L296.9,1159.6 L299.0,1165.1 L301.1,1168.7 L303.4,1171.2 L305.7,1167.0 L308.0,1167.1 L309.9,1162.7 L311.7,1162.8 L313.6,1156.6 L315.4,1154.9 L317.3,1149.3 L319.1,1147.4 L321.2,1144.8 L323.3,1140.4 L325.4,1141.9 L327.5,1143.9 L329.4,1138.7 L331.2,1133.4 L333.1,1128.1 L334.9,1130.3 L336.8,1133.5 L338.6,1133.5 L340.5,1131.3 L342.3,1126.1 L344.2,1123.3 L346.0,1128.2 L347.9,1133.0 L349.8,1139.6 L351.8,1143.2 L353.9,1142.5 L356.0,1146.2 L358.1,1152.1 L360.2,1153.3 L362.3,1152.5 L364.4,1157.6 L366.5,1160.5 L368.5,1153.5 L370.6,1148.6 L372.7,1145.1 L374.8,1142.3 L376.9,1142.8 L379.0,1146.6 L381.1,1149.7 L383.2,1155.4 L385.4,1153.7 L387.6,1151.7 L389.8,1151.4 L392.1,1148.7 L394.3,1149.1 L396.5,1150.7 L398.7,1147.2 L400.8,1144.3 L403.0,1145.8 L405.2,1141.5 L407.4,1139.5 L409.6,1136.9 L412.0,1138.9 L414.5,1140.7 L416.9,1142.3 L419.3,1146.9 L421.8,1141.0 L424.2,1137.9 L426.6,1136.5 L429.1,1135.0 L431.4,1136.1 L433.7,1142.3 L436.0,1144.5 L438.3,1144.7 L440.5,1144.1 L442.7,1145.0 L444.9,1143.4 L447.2,1141.5 L449.4,1141.9 L451.6,1138.4 L453.8,1137.3 L456.1,1138.8 L458.3,1135.7 L460.4,1137.9 L462.5,1137.0 L464.6,1141.0 L466.6,1140.8 L468.8,1138.2 L471.0,1140.5 L473.1,1137.4 L475.3,1135.9 L477.4,1130.7 L479.5,1125.1 L481.6,1125.9 L483.7,1128.5 L485.7,1126.2 L487.8,1127.0 L489.9,1128.5 L492.0,1129.6 L494.1,1129.4 L496.2,1131.9 L498.3,1127.9 L500.4,1127.0 L502.4,1125.7 L504.5,1122.7 L506.8,1126.1 L509.2,1128.5 L511.5,1134.1 L513.9,1130.8 L516.4,1132.6 L518.8,1129.9 L521.2,1131.3 L523.7,1129.5 L526.1,1126.3 L528.5,1127.2 L531.0,1124.1 L533.3,1127.2 L535.6,1128.5 L537.9,1133.8 L540.0,1132.2 L542.1,1132.3 L544.2,1133.5 L546.3,1132.3 L548.4,1127.3 L550.4,1129.0 L552.5,1129.0 L554.6,1126.0 L556.9,1122.2 L559.3,1124.4 L561.6,1120.9 L564.4,1105.9 L566.4,1110.8 L568.5,1111.2 L570.6,1109.8 L572.7,1109.3 L574.6,1106.9 L576.4,1114.6 L578.3,1115.0 L580.4,1117.1 L582.4,1121.5 L584.3,1126.2 L586.2,1127.1 L588.0,1132.8 L590.1,1135.3 L592.2,1134.8 L594.3,1135.9 L596.4,1135.7 L598.5,1138.3 L600.5,1134.3 L602.6,1135.7 L604.7,1134.9 L606.8,1134.3 L608.9,1141.4 L611.0,1136.0 L613.1,1137.7 L615.4,1138.1 L617.7,1138.5 L620.0,1138.9 L622.3,1137.4 L624.7,1138.2 L627.0,1138.3 L629.2,1140.1 L631.4,1134.9 L633.7,1134.5 L635.9,1137.3 L638.1,1134.2 L640.9,1145.3 L642.7,1142.1 L644.6,1140.5 L646.5,1135.5 L648.7,1137.7 L650.9,1136.6 L653.1,1139.5 L655.4,1136.3 L657.6,1138.8 L659.9,1137.8 L662.2,1137.2 L664.5,1133.9 L667.0,1135.1 L669.4,1136.4 L671.9,1133.8 L674.3,1132.8 L676.6,1132.8 L678.9,1137.5 L681.2,1136.5 L683.7,1135.8 L686.1,1136.1 L688.5,1134.0 L691.0,1134.1 L693.3,1133.6 L695.6,1133.1 L697.9,1135.3 L700.3,1131.8 L702.6,1130.5 L704.9,1133.5 L707.0,1133.3 L709.1,1132.0 L711.2,1136.3 L713.2,1137.5 L715.3,1138.6 L717.4,1140.4 L719.7,1136.7 L722.1,1133.7 L724.4,1134.2 L726.5,1133.3 L728.6,1133.4 L730.6,1130.6 L732.7,1131.2 L734.6,1133.9 L736.4,1133.7 L738.3,1135.9 L740.4,1134.4 L742.5,1134.8 L744.6,1132.0 L746.6,1131.8 L748.8,1133.5 L751.0,1131.2 L753.1,1130.7 L755.3,1133.1 L757.6,1132.3 L759.9,1137.3 L762.3,1136.2 L764.6,1137.1 L766.9,1133.4 L769.2,1129.6 L771.1,1132.9 L772.9,1135.3 L774.8,1136.0 L777.1,1135.5 L779.4,1133.0 L781.7,1134.6 L784.1,1130.9 L786.4,1133.8 L788.7,1130.2 L791.0,1130.8 L793.3,1127.2 L795.7,1125.9 L797.5,1126.4 L799.4,1126.3 L801.2,1121.8 L803.1,1123.1 L804.9,1124.2 L806.8,1125.7 L808.6,1122.0 L810.5,1119.5 L812.4,1119.8 L814.2,1117.4 L816.1,1115.4 L817.9,1117.3 L820.0,1116.1 L822.1,1110.2 L824.0,1105.1 L825.8,1104.5 L827.7,1106.2 L829.5,1101.5 L831.4,1102.1 L833.2,1106.6 L835.1,1098.6 L836.9,1100.8 L838.8,1092.8 L840.9,1094.3 L843.0,1096.2 L845.1,1092.8 L847.1,1098.2 L849.6,1090.2 L852.0,1087.6 L854.4,1091.7 L856.9,1090.3 L859.0,1095.7 L861.1,1095.1 L863.1,1089.8 L865.2,1092.0 L867.1,1089.7 L868.9,1093.2 L870.8,1095.7 L873.2,1087.8 L875.7,1084.3 L878.2,1083.2 L880.8,1091.9 L883.3,1092.3 L885.6,1093.2 L888.0,1086.2 L890.3,1090.9 L892.4,1086.4 L894.5,1091.1 L896.5,1089.4 L898.6,1095.7 L900.7,1085.5 L902.8,1085.0 L905.1,1084.6 L907.4,1083.4 L909.8,1080.1 L911.8,1084.9 L913.9,1087.1 L916.4,1076.6 L918.8,1077.1 L921.2,1072.7 L923.7,1073.3 L925.5,1071.5 L927.4,1073.2 L929.2,1067.6 L931.1,1065.6 L932.9,1059.1 L934.8,1062.9 L936.9,1059.3 L939.0,1060.7 L941.1,1064.9 L943.2,1064.4 L945.2,1058.7 L947.3,1058.7 L949.4,1056.7 L951.5,1048.9 L953.6,1039.9 L955.7,1035.2 L957.8,1032.7 L959.9,1025.9 L962.6,1004.6 L965.0,999.6 L967.3,1005.4 L969.6,997.3 L971.7,1001.3 L973.8,1007.8 L975.9,1015.1 L977.9,1022.3 L979.8,1027.6 L981.7,1032.8 L983.5,1041.4 L985.8,1042.3 L988.1,1050.0 L990.5,1051.0 L992.3,1056.8 L994.2,1051.8 L996.0,1063.2 L998.8,1066.3 L1000.9,1064.3 L1003.0,1056.5 L1004.8,1058.0 L1006.7,1060.5 L1008.6,1061.2 L1010.9,1071.1 L1013.2,1063.9 L1015.5,1066.8 L1017.4,1072.1 L1019.2,1068.9 L1021.1,1070.3 L1022.9,1069.0 L1024.8,1067.2 L1026.6,1063.2 L1029.1,1071.0 L1031.5,1070.5 L1033.9,1067.1 L1036.0,1072.3 L1038.1,1067.9 L1040.2,1063.4 L1042.3,1070.3 L1044.4,1063.2 L1046.4,1069.9 L1048.5,1070.5 L1050.6,1062.7 L1052.7,1073.5 L1054.8,1071.3 L1056.9,1074.2 L1059.0,1080.6 L1060.8,1073.4 L1062.7,1068.8 L1064.5,1064.4 L1066.8,1074.2 L1069.2,1071.0 L1071.5,1074.8 L1073.8,1073.3 L1076.1,1076.0 L1078.4,1074.7 L1080.5,1070.0 L1082.6,1060.6 L1084.5,1061.6 L1086.3,1052.1 L1088.2,1050.9 L1091.0,1035.2 L1093.7,1019.4 L1095.8,1004.9 L1097.6,997.7 L1099.3,990.4 L1101.4,974.7 L1103.5,956.5 L1105.3,938.3 L1107.8,904.3 L1110.4,871.3 L1112.9,838.3 L1114.9,815.7 L1116.8,782.6 L1119.3,735.7 L1120.6,691.3 L1122.5,647.0 L1124.5,613.0 L1125.5,565.2 L1126.5,521.7 L1127.3,466.1 L1128.2,400.0 L1129.3,330.4 L1130.3,269.6 L1131.5,214.3 L1132.8,269.6 L1134.5,330.4 L1136.8,400.0 L1138.0,469.6 L1138.8,521.7 L1139.8,591.3 L1140.5,626.1 L1141.2,669.6 L1142.0,713.0 L1143.0,747.8 L1143.6,782.6 L1144.9,804.3 L1146.2,827.0 L1148.1,849.6 L1148.8,871.3 L1150.0,893.9 L1151.3,915.7 L1153.9,938.3 L1156.4,956.5 L1158.5,964.4 L1160.5,968.3 L1162.4,977.7 L1164.2,975.4 L1166.1,989.3 L1168.0,985.3 L1169.8,989.2 L1171.7,992.8 L1173.8,998.9 L1175.8,1004.9 L1178.6,1017.3 L1180.7,1021.8 L1182.8,1028.3 L1184.9,1036.5 L1187.0,1033.7 L1189.1,1040.2 L1191.2,1044.8 L1193.2,1050.3 L1195.3,1053.1 L1197.2,1062.1 L1199.0,1058.3 L1200.9,1060.0 L1202.7,1066.4 L1204.6,1061.8 L1206.5,1063.0 L1208.3,1061.1 L1210.2,1057.4 L1212.0,1060.3 L1213.9,1055.1 L1215.7,1056.6 L1217.6,1056.5 L1219.7,1056.7 L1221.8,1054.6 L1223.6,1052.3 L1225.5,1057.6 L1227.3,1058.0 L1229.8,1055.5 L1232.2,1050.7 L1233.9,1052.2 L1235.7,1055.5 L1237.5,1059.5 L1239.4,1054.3 L1241.2,1055.9 L1243.3,1055.2 L1245.4,1058.0 L1247.5,1051.3 L1249.6,1055.7 L1251.4,1050.7 L1253.3,1052.5 L1255.2,1054.5 L1257.0,1057.2 L1258.9,1060.1 L1260.7,1057.1 L1263.9,1070.8 L1266.0,1089.0 L1268.0,1108.3 L1270.7,1111.1 L1273.3,1120.5 L1275.4,1118.2 L1277.5,1122.5 L1279.6,1127.4 L1281.7,1127.5 L1283.8,1126.7 L1285.9,1128.5 L1288.0,1125.7 L1290.1,1126.2 L1292.2,1128.6 L1294.2,1132.7 L1296.3,1129.7 L1298.2,1132.8 L1300.0,1135.5 L1302.3,1132.4 L1304.6,1134.0 L1307.0,1128.7 L1309.4,1128.0 L1311.8,1131.7 L1314.3,1126.5 L1316.7,1126.9 L1318.8,1128.4 L1320.9,1131.2 L1323.0,1129.2 L1325.0,1130.9 L1326.9,1130.4 L1328.8,1127.9 L1330.6,1127.3 L1332.7,1124.7 L1334.8,1128.4 L1336.9,1127.1 L1339.0,1132.3 L1341.3,1129.2 L1343.6,1130.3 L1345.9,1132.7 L1348.0,1132.1 L1350.1,1127.7 L1352.2,1129.1 L1354.3,1125.1 L1356.6,1126.5 L1358.9,1125.6 L1361.2,1129.2 L1363.5,1130.1 L1365.9,1130.2 L1368.2,1128.6 L1370.5,1129.0 L1372.8,1133.2 L1375.1,1133.3 L1377.5,1135.6 L1379.8,1134.6 L1382.1,1138.4 L1384.4,1135.1 L1386.7,1133.1 L1389.1,1129.4 L1391.4,1132.3 L1393.7,1132.6 L1396.0,1133.2 L1398.3,1134.9 L1400.6,1133.7 L1403.0,1137.5 L1405.3,1135.5 L1407.6,1134.3 L1409.9,1136.8 L1412.0,1136.8 L1414.1,1137.0 L1416.2,1141.1 L1418.3,1142.3 L1420.4,1138.1 L1422.4,1136.9 L1424.3,1135.5 L1426.2,1138.4 L1428.0,1142.6 L1430.3,1139.9 L1432.7,1141.8 L1435.0,1136.9 L1437.4,1136.8 L1439.8,1137.0 L1442.3,1137.1 L1444.7,1139.1 L1446.1,1124.6 L1448.0,1125.4 L1449.8,1123.8 L1451.7,1122.1 L1452.4,1138.3 L1454.8,1136.7 L1457.2,1136.1 L1459.6,1137.3 L1461.9,1141.0 L1464.2,1142.1 L1466.3,1146.6 L1468.4,1146.5 L1470.2,1144.1 L1472.1,1144.8 L1473.9,1140.5 L1476.3,1143.6 L1478.6,1143.3 L1480.9,1143.3 L1483.0,1142.8 L1485.1,1142.7 L1487.2,1143.7 L1489.2,1143.8 L1491.1,1143.0 L1492.9,1146.1 L1494.8,1143.9 L1497.1,1146.3 L1499.4,1145.3 L1501.8,1143.3 L1504.1,1142.1 L1506.4,1146.9 L1508.7,1145.8 L1510.8,1144.9 L1512.9,1147.2 L1515.0,1142.6 L1517.1,1144.6 L1519.2,1143.8 L1521.2,1148.1 L1523.3,1146.2 L1525.4,1146.9 L1527.3,1146.3 L1529.1,1143.7 L1531.0,1142.7 L1533.4,1140.2 L1535.9,1139.9 L1538.3,1139.6 L1540.7,1140.5 L1542.8,1140.4 L1544.9,1144.2 L1547.0,1147.2 L1549.1,1148.4 L1551.2,1145.8 L1553.2,1146.2 L1555.3,1143.8 L1557.4,1145.0 L1559.5,1145.7 L1561.6,1141.6 L1563.7,1144.0 L1565.8,1144.7 L1567.9,1142.3 L1569.9,1143.1 L1572.0,1145.4 L1574.1,1143.5 L1576.7,1139.6 L1579.2,1136.8 L1581.8,1131.9 L1584.2,1135.1 L1586.6,1140.1 L1589.0,1141.0 L1591.3,1142.4 L1593.6,1138.9 L1595.9,1142.8 L1598.1,1143.6 L1600.4,1144.1 L1602.4,1144.1 L1604.5,1145.4 L1606.6,1141.4 L1608.7,1142.9 L1611.0,1143.4 L1613.3,1142.5 L1615.7,1144.7 L1618.1,1143.9 L1620.5,1145.3 L1623.0,1143.8 L1625.4,1146.6 L1627.8,1147.2 L1630.3,1146.9 L1632.7,1146.5 L1635.1,1142.7 L1637.2,1145.0 L1639.3,1142.6 L1641.4,1144.0 L1643.5,1142.6 L1645.8,1145.5 L1648.1,1145.5 L1650.4,1149.7 L1652.8,1149.0 L1655.1,1152.2 L1657.4,1150.9 L1659.3,1151.4 L1661.1,1147.0 L1663.0,1145.9 L1665.1,1145.5 L1667.1,1146.5 L1669.2,1145.8 L1671.3,1144.1 L1673.8,1147.5 L1676.2,1143.6 L1678.6,1145.9 L1681.1,1144.6 L1683.5,1145.1 L1685.9,1146.2 L1688.4,1150.2 L1690.8,1146.5 L1692.9,1149.2 L1695.0,1147.9 L1697.1,1148.5 L1699.1,1148.0 L1701.2,1144.6 L1703.3,1148.3 L1705.4,1144.6 L1707.5,1144.5 L1709.9,1145.4 L1712.4,1147.9 L1714.8,1147.6 L1717.2,1148.4 L1719.3,1145.3 L1721.4,1145.6 L1723.5,1144.0 L1725.6,1146.1 L1727.9,1146.2 L1730.2,1148.9 L1732.5,1149.7 L1734.6,1147.8 L1736.7,1147.5 L1738.8,1147.8 L1740.9,1149.9 L1743.2,1147.4 L1745.5,1148.7 L1747.8,1148.0 L1750.2,1145.8 L1752.5,1145.7 L1754.8,1145.1 L1756.7,1148.3 L1758.5,1148.8 L1760.4,1148.4 L1762.2,1147.0 L1764.1,1145.9 L1765.9,1145.6 L1768.3,1147.7 L1770.6,1151.0 L1772.9,1148.0 L1775.0,1147.6 L1777.1,1147.7 L1779.2,1147.5 L1781.2,1144.3 L1783.6,1144.5 L1785.9,1147.4 L1788.2,1145.3 L1790.3,1146.6 L1792.4,1143.5 L1794.7,1145.0 L1797.0,1149.9 L1799.3,1149.9 L1801.4,1149.6 L1803.5,1143.8 L1805.8,1144.3 L1808.1,1147.1 L1810.5,1148.9 L1812.3,1148.3 L1814.2,1144.6 L1816.0,1146.1 L1818.3,1144.9 L1820.7,1148.8 L1823.0,1148.9 L1825.1,1149.4 L1827.2,1146.6 L1828.5,1147.5 L1830.0,1147.5"/>
</g>
<rect x="187.5" y="155" width="4.5" height="1338"/>
<rect x="187.5" y="1487.5" width="1643.8" height="5.5"/>
<rect x="350.75" y="1461.2" width="4.1" height="27.30"/>
<rect x="516.65" y="1474.3" width="4.1" height="14.20"/>
<rect x="679.85" y="1461.2" width="4.1" height="27.30"/>
<rect x="844.35" y="1474.3" width="4.1" height="14.20"/>
<rect x="1007.35" y="1461.2" width="4.1" height="27.30"/>
<rect x="1170.35" y="1474.3" width="4.1" height="14.20"/>
<rect x="1334.95" y="1461.2" width="4.1" height="27.30"/>
<rect x="1499.45" y="1474.3" width="4.1" height="14.20"/>
<rect x="1664.05" y="1461.2" width="4.1" height="27.30"/>
<rect x="1827.05" y="1474.3" width="4.1" height="14.20"/>
<text><tspan x="313.50" y="1559.80" font-size="54.19" textLength="28.18" lengthAdjust="spacingAndGlyphs" font-weight="bold">1</tspan><tspan x="339.40" y="1558.95" font-size="51.76" textLength="56.70" lengthAdjust="spacingAndGlyphs" stroke="#000" stroke-width="1.7" stroke-linejoin="round">00</tspan></text>
<text><tspan x="637.30" y="1559.80" font-size="54.19" textLength="33.43" lengthAdjust="spacingAndGlyphs" font-weight="bold">2</tspan><tspan x="668.42" y="1558.95" font-size="51.76" textLength="55.65" lengthAdjust="spacingAndGlyphs" stroke="#000" stroke-width="1.7" stroke-linejoin="round">00</tspan></text>
<text><tspan x="965.14" y="1559.80" font-size="54.19" textLength="31.08" lengthAdjust="spacingAndGlyphs" font-weight="bold">3</tspan><tspan x="995.42" y="1558.95" font-size="51.76" textLength="55.65" lengthAdjust="spacingAndGlyphs" stroke="#000" stroke-width="1.7" stroke-linejoin="round">00</tspan></text>
<text><tspan x="1292.12" y="1559.80" font-size="54.19" textLength="28.90" lengthAdjust="spacingAndGlyphs" font-weight="bold">4</tspan><tspan x="1321.79" y="1558.95" font-size="51.76" textLength="57.01" lengthAdjust="spacingAndGlyphs" stroke="#000" stroke-width="1.7" stroke-linejoin="round">00</tspan></text>
<text><tspan x="1622.47" y="1558.65" font-size="50.90" textLength="29.72" lengthAdjust="spacingAndGlyphs" stroke="#000" stroke-width="2.3" stroke-linejoin="round">5</tspan><tspan x="1651.19" y="1558.95" font-size="51.76" textLength="56.90" lengthAdjust="spacingAndGlyphs" stroke="#000" stroke-width="1.7" stroke-linejoin="round">00</tspan></text>
<text><tspan x="270.62" y="1151.35" font-size="52.90" textLength="56.66" lengthAdjust="spacingAndGlyphs" stroke="#000" stroke-width="0.3" stroke-linejoin="round">98</tspan> <tspan x="337.81" y="1151.35" font-size="49.94" textLength="69.97" lengthAdjust="spacingAndGlyphs" stroke="#000" stroke-width="0.3" stroke-linejoin="round">cm</tspan><tspan x="403.08" y="1122.00" font-size="29.82" textLength="30.40" lengthAdjust="spacingAndGlyphs" stroke="#000" stroke-width="0.2" stroke-linejoin="round">-1</tspan></text>
<text><tspan x="270.55" y="1217.15" font-size="53.91" textLength="130.08" lengthAdjust="spacingAndGlyphs" stroke="#000" stroke-width="0.3" stroke-linejoin="round">CZTS</tspan></text>
<text><tspan x="502.43" y="1106.35" font-size="52.90" textLength="82.31" lengthAdjust="spacingAndGlyphs" stroke="#000" stroke-width="0.3" stroke-linejoin="round">164</tspan> <tspan x="601.42" y="1106.35" font-size="49.94" textLength="71.43" lengthAdjust="spacingAndGlyphs" stroke="#000" stroke-width="0.3" stroke-linejoin="round">cm</tspan><tspan x="672.28" y="1077.00" font-size="29.82" textLength="30.40" lengthAdjust="spacingAndGlyphs" stroke="#000" stroke-width="0.2" stroke-linejoin="round">-1</tspan></text>
<text><tspan x="499.53" y="1171.85" font-size="53.48" textLength="97.04" lengthAdjust="spacingAndGlyphs" stroke="#000" stroke-width="0.3" stroke-linejoin="round">SnS</tspan></text>
<text><tspan x="744.24" y="1084.65" font-size="52.90" textLength="87.02" lengthAdjust="spacingAndGlyphs" stroke="#000" stroke-width="0.3" stroke-linejoin="round">251</tspan> <tspan x="838.02" y="1084.65" font-size="49.94" textLength="70.59" lengthAdjust="spacingAndGlyphs" stroke="#000" stroke-width="0.3" stroke-linejoin="round">cm</tspan><tspan x="902.27" y="1055.00" font-size="30.11" textLength="30.40" lengthAdjust="spacingAndGlyphs" stroke="#000" stroke-width="0.2" stroke-linejoin="round">-1</tspan></text>
<text><tspan x="745.27" y="1150.15" font-size="53.91" textLength="129.04" lengthAdjust="spacingAndGlyphs" stroke="#000" stroke-width="0.3" stroke-linejoin="round">CZTS</tspan></text>
<text><tspan x="885.82" y="933.35" font-size="53.48" textLength="87.76" lengthAdjust="spacingAndGlyphs" stroke="#000" stroke-width="0.3" stroke-linejoin="round">289</tspan> <tspan x="988.45" y="933.35" font-size="50.48" textLength="71.40" lengthAdjust="spacingAndGlyphs" stroke="#000" stroke-width="0.3" stroke-linejoin="round">cm</tspan><tspan x="1059.58" y="905.50" font-size="29.67" textLength="30.26" lengthAdjust="spacingAndGlyphs" stroke="#000" stroke-width="0.2" stroke-linejoin="round">-1</tspan></text>
<text><tspan x="886.16" y="998.75" font-size="53.91" textLength="134.84" lengthAdjust="spacingAndGlyphs" stroke="#000" stroke-width="0.3" stroke-linejoin="round">CZTS</tspan></text>
<text><tspan x="1079.22" y="170.85" font-size="53.48" textLength="80.79" lengthAdjust="spacingAndGlyphs" stroke="#000" stroke-width="0.3" stroke-linejoin="round">337</tspan> <tspan x="1171.46" y="170.85" font-size="50.48" textLength="69.71" lengthAdjust="spacingAndGlyphs" stroke="#000" stroke-width="0.3" stroke-linejoin="round">cm</tspan><tspan x="1235.63" y="141.30" font-size="29.53" textLength="29.28" lengthAdjust="spacingAndGlyphs" stroke="#000" stroke-width="0.2" stroke-linejoin="round">-1</tspan></text>
<text><tspan x="1078.59" y="236.75" font-size="53.91" textLength="127.90" lengthAdjust="spacingAndGlyphs" stroke="#000" stroke-width="0.3" stroke-linejoin="round">CZTS</tspan></text>
<text><tspan x="1168.35" y="698.65" font-size="52.76" textLength="84.28" lengthAdjust="spacingAndGlyphs" stroke="#000" stroke-width="0.3" stroke-linejoin="round">351</tspan> <tspan x="1261.56" y="698.65" font-size="49.81" textLength="69.50" lengthAdjust="spacingAndGlyphs" stroke="#000" stroke-width="0.3" stroke-linejoin="round">cm</tspan><tspan x="1325.56" y="669.50" font-size="30.11" textLength="30.82" lengthAdjust="spacingAndGlyphs" stroke="#000" stroke-width="0.2" stroke-linejoin="round">-1</tspan></text>
<text><tspan x="1168.55" y="764.25" font-size="53.91" textLength="89.46" lengthAdjust="spacingAndGlyphs" stroke="#000" stroke-width="0.3" stroke-linejoin="round">ZnS</tspan></text>
<text><tspan x="1204.19" y="911.65" font-size="53.48" textLength="82.16" lengthAdjust="spacingAndGlyphs" stroke="#000" stroke-width="0.3" stroke-linejoin="round">363</tspan> <tspan x="1296.89" y="911.65" font-size="50.48" textLength="69.15" lengthAdjust="spacingAndGlyphs" stroke="#000" stroke-width="0.3" stroke-linejoin="round">cm</tspan><tspan x="1360.55" y="882.00" font-size="31.85" textLength="30.84" lengthAdjust="spacingAndGlyphs" stroke="#000" stroke-width="0.2" stroke-linejoin="round">-1</tspan></text>
<text><tspan x="1204.11" y="975.45" font-size="53.91" textLength="126.45" lengthAdjust="spacingAndGlyphs" stroke="#000" stroke-width="0.3" stroke-linejoin="round">CZTS</tspan></text>
<text><tspan x="1301.73" y="1106.35" font-size="53.05" textLength="80.23" lengthAdjust="spacingAndGlyphs" stroke="#000" stroke-width="0.3" stroke-linejoin="round">375</tspan> <tspan x="1393.91" y="1106.35" font-size="50.08" textLength="69.66" lengthAdjust="spacingAndGlyphs" stroke="#000" stroke-width="0.3" stroke-linejoin="round">cm</tspan><tspan x="1458.15" y="1077.20" font-size="30.11" textLength="28.72" lengthAdjust="spacingAndGlyphs" stroke="#000" stroke-width="0.2" stroke-linejoin="round">-1</tspan></text>
<text><tspan x="1301.60" y="1171.75" font-size="53.91" textLength="127.39" lengthAdjust="spacingAndGlyphs" stroke="#000" stroke-width="0.3" stroke-linejoin="round">CZTS</tspan></text>
<text><tspan x="789.17" y="1682.05" font-size="54.65" textLength="187.27" lengthAdjust="spacingAndGlyphs" stroke="#000" stroke-width="0.3" stroke-linejoin="round">Raman</tspan> <tspan x="991.76" y="1682.05" font-size="54.65" textLength="115.47" lengthAdjust="spacingAndGlyphs" stroke="#000" stroke-width="0.3" stroke-linejoin="round">Shift</tspan> <tspan x="1122.63" y="1682.05" font-size="54.65" textLength="96.85" lengthAdjust="spacingAndGlyphs" stroke="#000" stroke-width="0.3" stroke-linejoin="round">(cm</tspan><tspan x="1217.22" y="1661.25" font-size="45.09" textLength="33.76" lengthAdjust="spacingAndGlyphs" stroke="#000" stroke-width="0.3" stroke-linejoin="round">-1</tspan><tspan x="1250.64" y="1682.05" font-size="54.65" textLength="18.47" lengthAdjust="spacingAndGlyphs" stroke="#000" stroke-width="0.3" stroke-linejoin="round">)</tspan></text>
<text transform="translate(67.3 0) rotate(-90)"><tspan x="-1077.72" y="-0.15" font-size="64.67" textLength="259.71" lengthAdjust="spacingAndGlyphs" stroke="#000" stroke-width="0.3" stroke-linejoin="round" letter-spacing="2.68">Intensity</tspan> <tspan x="-798.21" y="-0.15" font-size="64.67" textLength="145.85" lengthAdjust="spacingAndGlyphs" stroke="#000" stroke-width="0.3" stroke-linejoin="round" letter-spacing="3.17">(a.u)</tspan></text>
<path fill-rule="evenodd" d="M1566.4,22.4H2140.1V147.0H1566.4Z M1569.4,25.4V144.0H2137.1V25.4Z"/>
<line x1="1597.70" x2="1735.00" y1="91.9" y2="91.9" stroke="#ed1c24" stroke-width="8" stroke-linecap="round"/>
<text><tspan x="1764.33" y="111.55" font-size="61.85" textLength="135.20" lengthAdjust="spacingAndGlyphs" stroke="#000" stroke-width="0.9" stroke-linejoin="round">temp</tspan> <tspan x="1913.53" y="111.55" font-size="65.52" textLength="99.25" lengthAdjust="spacingAndGlyphs" stroke="#000" stroke-width="0.9" stroke-linejoin="round">750</tspan> <tspan x="2026.23" y="102.28" font-size="61.26" textLength="24.83" lengthAdjust="spacingAndGlyphs" stroke="#000" stroke-width="0.9" stroke-linejoin="round">°</tspan><tspan x="2049.83" y="111.55" font-size="65.52" textLength="44.75" lengthAdjust="spacingAndGlyphs" stroke="#000" stroke-width="0.9" stroke-linejoin="round">C</tspan></text>
<path fill-rule="evenodd" d="M1578.2,159.3H2100.4V285.7H1578.2Z M1581.2,162.3V282.7H2097.4V162.3Z"/>
<line x1="1602.30" x2="1734.10" y1="228.3" y2="228.3" stroke="#000000" stroke-width="8" stroke-linecap="round"/>
<text><tspan x="1752.00" y="248.75" font-size="62.53" textLength="143.16" lengthAdjust="spacingAndGlyphs" stroke="#000" stroke-width="0.9" stroke-linejoin="round">temp</tspan> <tspan x="1912.28" y="248.75" font-size="66.24" textLength="104.91" lengthAdjust="spacingAndGlyphs" stroke="#000" stroke-width="0.9" stroke-linejoin="round">700</tspan> <tspan x="2032.06" y="238.73" font-size="60.18" textLength="24.68" lengthAdjust="spacingAndGlyphs" stroke="#000" stroke-width="0.9" stroke-linejoin="round">°</tspan><tspan x="2055.31" y="248.75" font-size="66.24" textLength="44.98" lengthAdjust="spacingAndGlyphs" stroke="#000" stroke-width="0.9" stroke-linejoin="round">C</tspan></text>
<path fill-rule="evenodd" d="M1560.6,312.4H2122.2V435.7H1560.6Z M1565.5,315.9V433.7H2119.7V315.9Z"/>
<line x1="1599.20" x2="1729.80" y1="375" y2="375" stroke="#00ff00" stroke-width="7.2" stroke-linecap="round"/>
<text><tspan x="1763.99" y="394.95" font-size="63.34" textLength="143.17" lengthAdjust="spacingAndGlyphs" stroke="#000" stroke-width="0.9" stroke-linejoin="round">temp</tspan> <tspan x="1925.27" y="394.95" font-size="67.10" textLength="105.03" lengthAdjust="spacingAndGlyphs" stroke="#000" stroke-width="0.9" stroke-linejoin="round">650</tspan> <tspan x="2046.51" y="385.34" font-size="63.06" textLength="26.37" lengthAdjust="spacingAndGlyphs" stroke="#000" stroke-width="0.9" stroke-linejoin="round">°</tspan><tspan x="2068.53" y="394.95" font-size="67.10" textLength="46.22" lengthAdjust="spacingAndGlyphs" stroke="#000" stroke-width="0.9" stroke-linejoin="round">C</tspan></text>
<path fill-rule="evenodd" d="M1540.2,463H2146V589.6H1540.2Z M1543.2,466.0V586.6H2143.0V466.0Z"/>
<line x1="1600.70" x2="1731.30" y1="531.2" y2="531.2" stroke="#0000ff" stroke-width="7.2" stroke-linecap="round"/>
<text><tspan x="1765.49" y="551.45" font-size="63.75" textLength="143.69" lengthAdjust="spacingAndGlyphs" stroke="#000" stroke-width="0.9" stroke-linejoin="round">temp</tspan> <tspan x="1927.29" y="551.45" font-size="67.53" textLength="104.51" lengthAdjust="spacingAndGlyphs" stroke="#000" stroke-width="0.9" stroke-linejoin="round">600</tspan> <tspan x="2046.51" y="542.44" font-size="63.06" textLength="26.37" lengthAdjust="spacingAndGlyphs" stroke="#000" stroke-width="0.9" stroke-linejoin="round">°</tspan><tspan x="2070.03" y="551.45" font-size="67.53" textLength="46.23" lengthAdjust="spacingAndGlyphs" stroke="#000" stroke-width="0.9" stroke-linejoin="round">C</tspan></text>
</svg>
</body>
</html>
